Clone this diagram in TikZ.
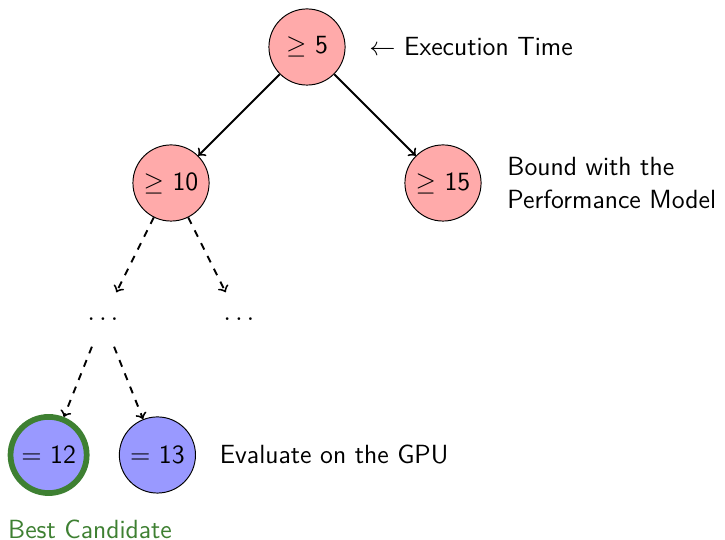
\documentclass[tikz,border=0pt]{standalone}
\usepackage{fontspec}
\usepackage{tikz}
\usetikzlibrary{positioning}
\definecolor{boundred}{RGB}{255,170,170}
\definecolor{evalblue}{RGB}{153,153,255}
\definecolor{bestgreen}{RGB}{62,128,50}
\tikzset{bound/.style = {draw, circle, thin, fill=boundred, minimum size=1.12cm, inner sep=0pt}}
\tikzset{evalnode/.style = {draw, circle, thin, fill=evalblue, minimum size=1.12cm, inner sep=0pt}}
\tikzset{best/.style = {evalnode, draw=bestgreen, line width=2.4pt}}
\tikzset{elided/.style = {circle, minimum size=0.85cm, inner sep=0pt}}
\tikzset{note/.style = {anchor=west, align=left}}

\begin{document}
\begin{tikzpicture}[>=to, thick, font=\sffamily\fontsize{11}{13.6}\selectfont]
  \useasboundingbox (-4.515,0.691) rectangle (6.147,-7.25);

  % search tree
  \node [bound] (root) {$\geq$ 5};
  \node [bound, on grid, below left=2cm and 2cm of root] (b10) {$\geq$ 10};
  \node [bound, on grid, below right=2cm and 2cm of root] (b15) {$\geq$ 15};
  \node [elided, on grid, below left=2cm and 1cm of b10] (dl) {$\ldots$};
  \node [elided, on grid, below right=2cm and 1cm of b10] (dr) {$\ldots$};
  \node [best, on grid, below left=2cm and 0.8cm of dl] (e12) {$=$ 12};
  \node [evalnode, on grid, below right=2cm and 0.8cm of dl] (e13) {$=$ 13};

  \path[->] (root) edge (b10);
  \path[->] (root) edge (b15);
  \path[->, dashed] (b10) edge (dl) edge (dr);
  \path[->, dashed] (dl) edge (e12) edge (e13);

  % side notes
  \node [note, right=0.22cm of root] (time) {$\leftarrow$ Execution Time};
  \node [note, right=0.25cm of b15] (model) {Bound with the\\Performance Model};
  \node [note, right=0.22cm of e13] (gpu) {Evaluate on the GPU};
  \node [note, text=bestgreen, below=0.22cm of e12, xshift=0.45cm, anchor=north] (cand) {$\uparrow$ Best Candidate};
\end{tikzpicture}
\end{document}
